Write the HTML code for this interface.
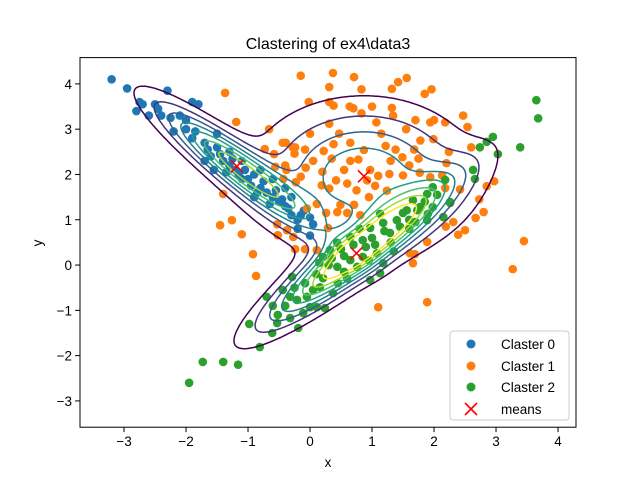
<!DOCTYPE html>
<html><head><meta charset="utf-8"><style>
body{margin:0;background:#fff}
svg text{font-family:"Liberation Sans","DejaVu Sans",sans-serif}
</style></head><body>
<svg id="chart" width="640" height="480" xmlns="http://www.w3.org/2000/svg">
<defs><clipPath id="clip"><rect x="80" y="57.6" width="496" height="369.6"/></clipPath></defs>
<rect width="640" height="480" fill="#fff"/>
<text x="328" y="49" font-size="16" text-anchor="middle">Clastering of ex4\data3</text>
<g id="pts" clip-path="url(#clip)"></g>
<g id="cont" clip-path="url(#clip)"></g>
<g id="means"></g>
<rect x="80" y="57.6" width="496" height="369.6" fill="none" stroke="#000" stroke-width="1"/>
<g id="axes" font-size="13.5"></g>
<text x="328" y="467" font-size="13.5" text-anchor="middle">x</text>
<text x="0" y="0" font-size="13.5" text-anchor="middle" transform="translate(42,243) rotate(-90)">y</text>
<g>
<rect x="450" y="331" width="119" height="89" rx="3" fill="#fff" fill-opacity="0.8" stroke="#ccc"/>
<circle cx="471" cy="344" r="4.5" fill="#1f77b4"/>
<text x="501" y="349" font-size="13.5">Claster 0</text>
<circle cx="471" cy="366" r="4.5" fill="#ff7f0e"/>
<text x="501" y="371" font-size="13.5">Claster 1</text>
<circle cx="471" cy="387" r="4.5" fill="#2ca02c"/>
<text x="501" y="392" font-size="13.5">Claster 2</text>
<path d="M465 403L477 415M477 403L465 415" stroke="red" stroke-width="1.6"/>
<text x="501" y="414" font-size="13.5">means</text>
</g>
</svg>
<script>
const xTicks=[-3,-2,-1,0,1,2,3,4];
const yTicks=[-3,-2,-1,0,1,2,3,4];
const cluster0=[[-3.2,4.1],[-2.95,3.9],[-2.75,3.6],[-2.7,3.55],[-2.8,3.4],[-2.5,3.55],[-2.45,3.45],[-2.4,3.3],[-2.3,3.85],[-2.1,3.3],[-1.9,3.6],[-1.8,3.55],[-2.2,2.95],[-2.0,3.0],[-1.9,2.8],[-1.7,2.7],[-1.6,2.4],[-1.5,2.9],[-1.4,2.3],[-1.3,2.2],[-1.2,2.1],[-1.1,2.3],[-1.0,1.9],[-0.9,2.0],[-0.8,1.7],[-0.7,1.6],[-0.6,1.9],[-0.5,1.4],[-0.4,1.3],[-0.3,1.1],[-0.2,1.0],[-0.1,1.2],[0,1.05],[0,0.65],[-1.5,2.6],[-1.7,2.3],[-2.0,3.2],[-1.3,2.5],[-0.9,1.5],[-0.6,1.5],[-0.3,1.5],[-1.1,1.9],[-0.8,2.1],[-0.4,1.7],[-0.2,0.8],[0.05,0.9],[-2.6,3.3],[-1.55,2.1],[-1.45,2.45],[-1.25,2.35],[-1.05,2.1],[-0.95,1.75],[-0.75,1.85],[-0.55,1.65],[-0.45,1.45],[-0.35,1.25],[-1.65,2.55],[-1.85,2.95],[-2.25,3.25],[-1.15,2.0],[-0.65,1.35],[-0.15,1.1],[-1.35,2.05],[-0.85,1.6]];
const cluster1=[[-0.15,4.18],[0.37,4.24],[0.71,4.15],[1.56,4.13],[1.42,4.04],[0.31,3.93],[0.83,3.88],[1.32,3.89],[1.96,3.88],[1.85,3.78],[-0.02,3.6],[0.31,3.6],[0.38,3.52],[0.64,3.5],[0.7,3.46],[0.83,3.35],[1.32,3.47],[1.34,3.3],[1.07,3.15],[1.55,3.0],[1.7,3.2],[1.94,3.15],[2.0,3.2],[2.18,3.15],[2.47,3.3],[2.54,3.05],[0.31,3.12],[0.47,2.9],[-0.39,2.7],[-0.24,2.6],[-0.08,2.55],[0.22,2.52],[0.38,2.67],[0.65,2.7],[0.87,2.54],[1.22,2.63],[1.38,2.55],[1.49,2.38],[1.68,2.55],[1.78,2.75],[1.99,2.78],[2.24,2.5],[-0.56,2.17],[-0.38,2.1],[-0.43,1.9],[-0.23,1.83],[-0.07,2.15],[0.2,2.06],[0.19,1.76],[0.31,1.69],[0.42,1.87],[0.65,2.3],[0.78,2.33],[0.97,2.1],[1.1,1.97],[1.24,1.64],[0.92,1.87],[0.95,1.5],[0.71,1.33],[0.49,1.33],[0.26,1.15],[-0.05,1.25],[1.28,2.01],[1.5,1.98],[1.77,2.04],[1.94,1.94],[2.13,1.98],[2.18,1.7],[2.42,1.67],[2.85,1.74],[2.73,1.45],[2.67,1.04],[2.39,0.67],[2.19,0.85],[3.27,-0.09],[3.45,0.53],[2.97,1.85],[2.8,1.17],[1.89,-0.82],[1.1,-0.93],[1.69,0.24],[-1.37,3.8],[-1.19,3.16],[-0.66,3.0],[-0.73,2.56],[-0.58,2.45],[-0.44,2.7],[-0.28,2.6],[-0.25,2.46],[-0.4,2.2],[-1.4,1.57],[-1.45,0.88],[-1.26,0.99],[-1.1,0.68],[-0.92,0.24],[-0.87,-0.24],[-0.53,0.9],[-0.37,0.77],[0.11,1.35],[-0.52,0.66],[-0.27,0.62],[-0.24,0.35],[-0.08,0.35],[0.11,0.33],[0.29,0.82],[0.44,1.17],[0.6,1.15],[0.81,1.1],[1.61,0.26],[1.66,0.04],[1.89,0.51],[2.31,0.95],[2.5,0.77],[1.15,2.9],[1.6,2.2],[0.55,2.1],[1.3,2.3],[0.0,2.9],[2.2,2.25],[2.6,2.6],[1.0,3.5],[0.05,2.3],[0.6,1.8],[0.75,1.65],[1.05,1.75],[0.35,2.35],[1.75,2.35],[-0.15,1.95]];
const cluster2=[[-1.95,-2.6],[-1.73,-2.14],[-1.4,-2.14],[-1.16,-2.2],[-0.81,-1.81],[-0.98,-1.3],[-0.61,-1.5],[-0.7,-0.7],[-0.52,-1.1],[-0.53,-1.28],[-0.32,-1.17],[-0.19,-1.39],[-0.44,-0.55],[-0.32,-0.7],[-0.21,-0.77],[-0.05,-0.7],[0,-0.93],[-0.11,-1.06],[0.11,-0.93],[0.24,-0.95],[-0.29,-0.26],[-0.08,-0.4],[0.16,-0.49],[0.37,-0.62],[0.21,-0.29],[0.44,-0.04],[0.65,0.11],[0.85,0.18],[0.76,-0.04],[0.97,-0.33],[1.13,-0.18],[1.18,0.04],[1.08,0.26],[0.44,0.49],[0.65,0.62],[0.85,0.55],[0.97,0.82],[1.18,0.93],[1.4,0.99],[1.29,0.71],[1.5,1.15],[1.73,1.21],[1.89,0.99],[1.98,1.28],[2.15,1.06],[2.26,1.37],[0.21,0.18],[0.32,0.33],[2.63,2.1],[2.66,1.9],[2.18,1.88],[1.98,1.72],[1.89,1.57],[2.26,1.39],[1.66,1.43],[1.77,1.28],[1.56,1.21],[1.9,1.13],[2.74,2.6],[2.85,2.72],[2.95,2.83],[3.03,2.45],[3.39,2.6],[3.65,3.64],[3.68,3.24],[1.13,1.13],[0.55,0.2],[0.9,0.4],[1.3,0.5],[0.6,-0.3],[0.1,-0.2],[1.6,0.8],[0.3,0.0],[-0.6,-0.9],[0.5,0.35],[0.7,0.45],[1.0,0.6],[1.2,0.75],[1.45,0.85],[1.6,1.0],[0.95,0.1],[0.55,-0.15],[0.35,0.15],[1.35,0.3],[1.05,0.45],[0.8,0.8],[1.7,0.95],[-0.4,-0.9],[-0.25,-0.5],[0.05,-0.55],[0.45,-0.4],[1.85,1.4],[2.05,1.55],[0.15,0.05]];
const meanX=[-1.18,0.87,0.75];
const meanY=[2.18,1.96,0.26];
const compWeight=[0.2,0.48,0.32];
const compSigAlong=[1.2,1.05,1.35];
const compSigPerp=[0.25,1.0,0.28];
const compAngleDeg=[133,0,47];
const levels=[0.015,0.03,0.045,0.06,0.075,0.09,0.105,0.12];

const X0=80,X1=576,Y0=57.6,Y1=427.2,xmin=-3.71,xmax=4.29,ymin=-3.58,ymax=4.58;
const sx=v=>X0+(v-xmin)/(xmax-xmin)*(X1-X0);
const sy=v=>Y1-(v-ymin)/(ymax-ymin)*(Y1-Y0);
const NS='http://www.w3.org/2000/svg';
function mk(t,a){const e=document.createElementNS(NS,t);for(const k in a)e.setAttribute(k,a[k]);return e;}

const ax=document.getElementById('axes');
xTicks.forEach(t=>{
  const l=mk('line',{x1:sx(t),x2:sx(t),y1:Y1,y2:Y1+4.9,stroke:'#000'});
  
  
  ax.appendChild(l);
  const tx=mk('text',{x:sx(t),y:Y1+19,'text-anchor':'middle'});
  tx.textContent=(t<0?'\u2212'+(-t):t);
  
  
  ax.appendChild(tx);
});
yTicks.forEach(t=>{
  const l=mk('line',{x1:X0-4.9,x2:X0,y1:sy(t),y2:sy(t),stroke:'#000'});
  
  
  ax.appendChild(l);
  const tx=mk('text',{x:X0-8,y:sy(t)+5,'text-anchor':'end'});
  tx.textContent=(t<0?'\u2212'+(-t):t);
  
  
  ax.appendChild(tx);
});

const pg=document.getElementById('pts');
[[cluster0,'#1f77b4'],[cluster1,'#ff7f0e'],[cluster2,'#2ca02c']].forEach(([arr,c],ci)=>{
  arr.forEach(p=>{
    const e=mk('circle',{cx:sx(p[0]),cy:sy(p[1]),r:4.3,fill:c});
    
    
    pg.appendChild(e);
  });
});

const comps=meanX.map((mx,i)=>{
  const th=compAngleDeg[i]*Math.PI/180,c=Math.cos(th),s=Math.sin(th);
  const a=compSigAlong[i]**2,p=compSigPerp[i]**2;
  const sxx=a*c*c+p*s*s,syy=a*s*s+p*c*c,sxy=(a-p)*c*s;
  const det=sxx*syy-sxy*sxy;
  return {mx,my:meanY[i],ixx:syy/det,iyy:sxx/det,ixy:-sxy/det,k:compWeight[i]/(2*Math.PI*Math.sqrt(det))};
});
function dens(x,y){let d=0;for(const q of comps){const dx=x-q.mx,dy=y-q.my;d+=q.k*Math.exp(-0.5*(q.ixx*dx*dx+2*q.ixy*dx*dy+q.iyy*dy*dy));}return d;}
const N=220,gx=[],gy=[],G=[];
for(let i=0;i<=N;i++){gx.push(xmin+(xmax-xmin)*i/N);gy.push(ymin+(ymax-ymin)*i/N);}
for(let j=0;j<=N;j++){G.push([]);for(let i=0;i<=N;i++)G[j].push(dens(gx[i],gy[j]));}
const vir=['#440154','#46327e','#365c8d','#277f8e','#1fa187','#4ac16d','#a0da39','#fde725'];
const cg=document.getElementById('cont');
levels.forEach((L,li)=>{
  let d='';
  const ip=(x1,y1,v1,x2,y2,v2)=>{const t=(L-v1)/(v2-v1);return [x1+(x2-x1)*t,y1+(y2-y1)*t];};
  for(let j=0;j<N;j++)for(let i=0;i<N;i++){
    const a=G[j][i],b=G[j][i+1],c=G[j+1][i+1],e=G[j+1][i];
    const idx=(a>L?1:0)|(b>L?2:0)|(c>L?4:0)|(e>L?8:0);
    if(idx===0||idx===15)continue;
    const x0=gx[i],x1=gx[i+1],y0=gy[j],y1=gy[j+1];
    const B=ip(x0,y0,a,x1,y0,b),R=ip(x1,y0,b,x1,y1,c),T=ip(x0,y1,e,x1,y1,c),Lf=ip(x0,y0,a,x0,y1,e);
    const segs={1:[[Lf,B]],2:[[B,R]],3:[[Lf,R]],4:[[R,T]],5:[[Lf,T],[B,R]],6:[[B,T]],7:[[Lf,T]],8:[[Lf,T]],9:[[B,T]],10:[[Lf,B],[R,T]],11:[[R,T]],12:[[Lf,R]],13:[[B,R]],14:[[Lf,B]]}[idx];
    segs.forEach(s=>{d+='M'+sx(s[0][0]).toFixed(1)+' '+sy(s[0][1]).toFixed(1)+'L'+sx(s[1][0]).toFixed(1)+' '+sy(s[1][1]).toFixed(1);});
  }
  const p=mk('path',{d,fill:'none',stroke:vir[li],'stroke-width':1.5,'stroke-linecap':'round'});
  
  
  cg.appendChild(p);
});

const mg=document.getElementById('means');
meanX.forEach((mx,i)=>{
  const x=sx(mx),y=sy(meanY[i]);
  const p=mk('path',{d:`M${x-6} ${y-6}L${x+6} ${y+6}M${x+6} ${y-6}L${x-6} ${y+6}`,stroke:'red','stroke-width':1.6});
  
  
  mg.appendChild(p);
});
</script>
</body></html>
